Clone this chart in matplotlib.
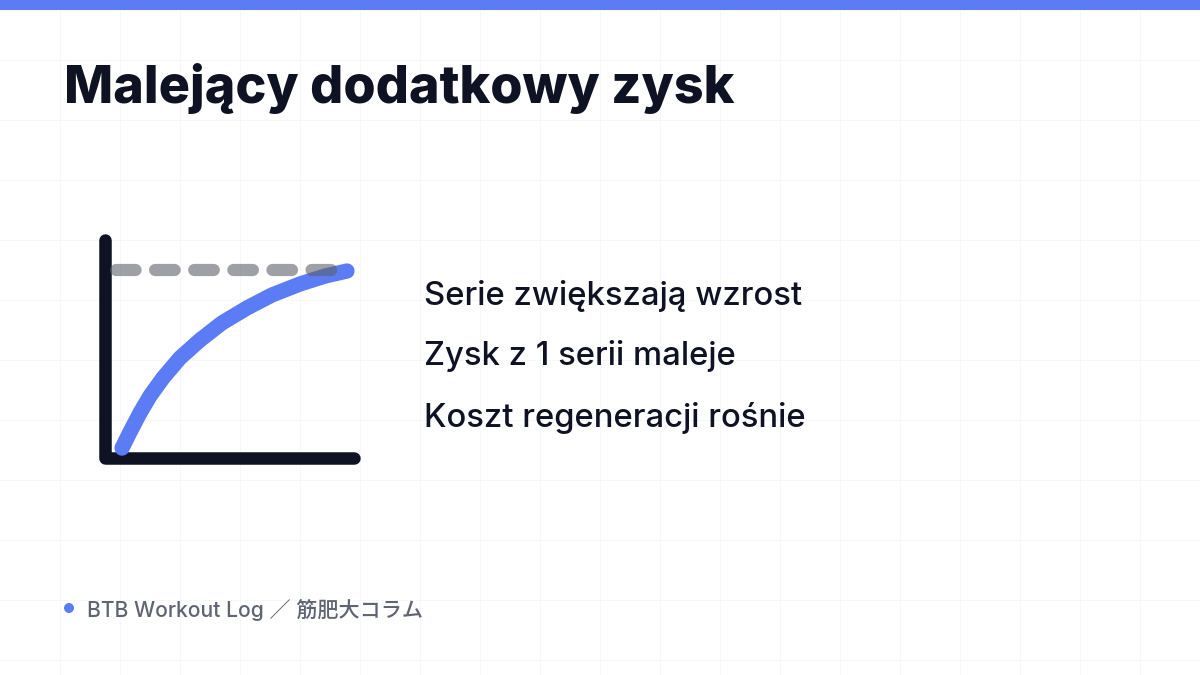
import matplotlib
matplotlib.use("Agg")
import matplotlib.pyplot as plt
from matplotlib.patches import Rectangle, Circle

plt.rcParams['font.family'] = ['Inter', 'Noto Sans CJK JP', 'DejaVu Sans']

W, H = 1200, 675
TITLE = "Malejący dodatkowy zysk"
BULLETS = ["Serie zwiększają wzrost", "Zysk z 1 serii maleje", "Koszt regeneracji rośnie"]
FOOTER = "BTB Workout Log ／ 筋肥大コラム"

# conceptual curve (diminishing returns)
curve_x = [0.68, 1.0, 1.4, 1.8, 2.32, 3.0, 3.8, 4.68, 5.68, 6.68, 7.8, 8.8, 9.68]
curve_y = [0.45, 1.18, 2.05, 2.82, 3.64, 4.55, 5.36, 6.14, 6.82, 7.41, 7.91, 8.27, 8.5]
plateau_x = [0.45, 9.3]
plateau_y = [8.55, 8.55]

BLUE = "#5b7cf5"
DARK = "#0f1222"
GRID = "#f6f7f9"

fig = plt.figure(figsize=(12, 6.75), dpi=100)
bg = fig.add_axes([0, 0, 1, 1])
bg.set_xlim(0, W)
bg.set_ylim(H, 0)
bg.axis('off')

# faint grid
for gx in range(60, W, 60):
    bg.plot([gx, gx], [0, H], color=GRID, lw=0.7, zorder=0)
for gy in range(60, H, 60):
    bg.plot([0, W], [gy, gy], color=GRID, lw=0.7, zorder=0)

# top bar
bg.add_patch(Rectangle((0, 0), W, 10, color=BLUE, lw=0, zorder=2))

# title
bg.text(64, 103, TITLE, fontsize=37.5, fontweight=800, color=DARK,
        va='baseline', ha='left')

# bullets
for i, t in enumerate(BULLETS):
    bg.text(424, 292 + i * 61, t, fontsize=23.6, fontweight=500, color=DARK,
            va='center_baseline', ha='left')

# footer
bg.add_patch(Circle((69, 608), 5, color=BLUE, lw=0))
bg.text(87, 608, FOOTER, fontsize=15.2, fontweight=500, color="#5f6472",
        va='center_baseline', ha='left')

# icon chart: x 0..10 -> px 105..355, y 0..10 -> px 458..238
ax = fig.add_axes([105 / W, 1 - 458 / H, 250 / W, 220 / H])
ax.set_xlim(0, 10)
ax.set_ylim(0, 10)
ax.axis('off')
ax.patch.set_alpha(0)

# axes strokes
ax.plot([0, 0, 9.95], [9.9, 0, 0], color=DARK, lw=9, solid_capstyle='round',
        solid_joinstyle='round', clip_on=False, zorder=2)
# curve
ax.plot(curve_x, curve_y, color=BLUE, lw=11, solid_capstyle='round',
        solid_joinstyle='round', clip_on=False, zorder=3)
# dashed plateau
ax.plot(plateau_x, plateau_y, color="#5d616b", alpha=0.6, lw=8.8,
        dashes=(1.6, 1.6), dash_capstyle='round', clip_on=False, zorder=4)

fig.savefig("out.png", dpi=100)
